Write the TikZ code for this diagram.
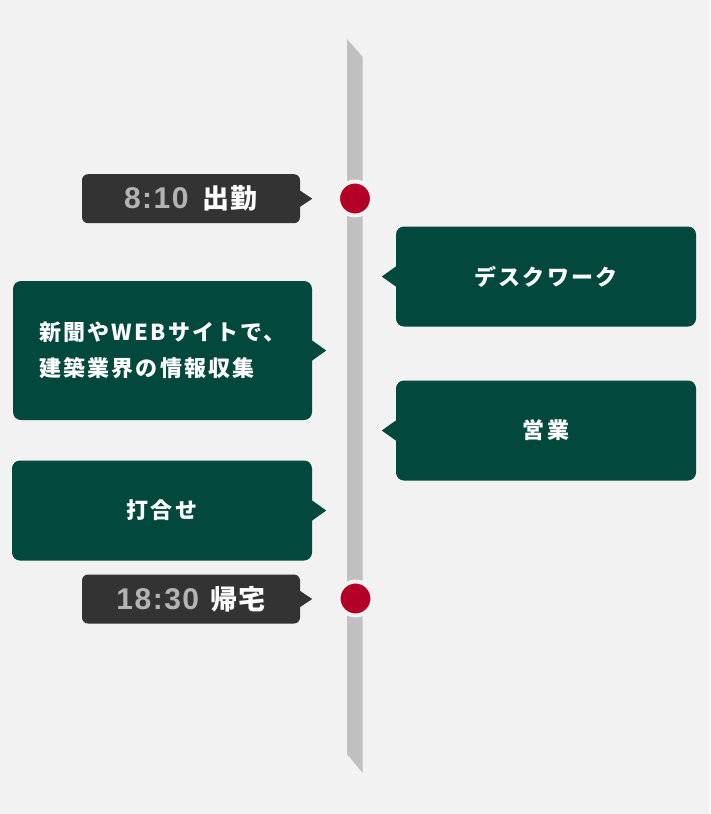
\documentclass[tikz,border=0pt]{standalone}
\usepackage{fontspec}
\setmainfont{Noto Sans CJK JP}
\newfontfamily\jpf[LetterSpace=10]{Noto Sans CJK JP}
\newfontfamily\jpt[LetterSpace=5]{Noto Sans CJK JP}
\newfontfamily\numf[LetterSpace=5]{Liberation Sans}
\definecolor{bgc}{HTML}{F2F2F2}
\definecolor{barc}{HTML}{C0C0C0}
\definecolor{grn}{HTML}{02483C}
\definecolor{dk}{HTML}{333333}
\definecolor{rd}{HTML}{B40027}
\definecolor{gtxt}{HTML}{B3B3B3}
\tikzset{
  gbox/.style={fill=grn, rounded corners=8pt, inner sep=0pt, minimum width=300pt, minimum height=100pt, text=white, font=\jpf\bfseries\fontsize{22}{36}\selectfont},
  tbox/.style={fill=dk, rounded corners=6pt, inner sep=0pt, minimum width=218pt, minimum height=49pt, text=white, font=\bfseries},
  dot/.style={circle, fill=rd, draw=bgc, line width=4pt, minimum size=34pt, inner sep=0pt},
  gptr/.style={fill=grn},
  tptr/.style={fill=dk}
}
\newcommand{\tnum}[1]{{\numf\fontsize{30}{30}\selectfont\color{gtxt}#1}}
\newcommand{\tjp}[1]{{\jpt\fontsize{27}{27}\selectfont #1}}
\begin{document}
\begin{tikzpicture}[x=1pt,y=-1pt]
\fill[bgc] (0,0) rectangle (710,814);
\useasboundingbox (0,0) rectangle (710,814);
% timeline bar
\fill[barc] (347,39) -- (362.7,57) -- (362.7,773) -- (347,754) -- cycle;
% dots
\node[dot] (d1) at (355,198.5) {};
\node[dot] (d2) at (355.5,598.5) {};
% time boxes
\node[tbox] (t1) at (191,198.7) {\tnum{8:10}\hspace{14pt}\tjp{出勤}};
\node[tbox] (t2) at (191,599) {\tnum{18:30}\hspace{11pt}\tjp{帰宅}};
\fill[tptr] ([yshift=8pt]t1.east) -- ([xshift=12pt]t1.east) -- ([yshift=-8pt]t1.east) -- cycle;
\fill[tptr] ([yshift=8pt]t2.east) -- ([xshift=12pt]t2.east) -- ([yshift=-8pt]t2.east) -- cycle;
% green boxes
\node[gbox] (desk) at (546,276.5) {\raisebox{2pt}{デスクワーク}};
\node[gbox] (sales) at (546,430.5) {\raisebox{2pt}{営業}};
\node[gbox, minimum width=299pt, minimum height=139pt, align=left] (news) at (162.5,350.5) {新聞やWEBサイトで、\\建築業界の情報収集};
\node[gbox, minimum width=300pt, minimum height=100pt] (meet) at (162,510.5) {\raisebox{2pt}{打合せ}};
\fill[gptr] ([yshift=10pt]desk.west) -- ([xshift=-14pt]desk.west) -- ([yshift=-10pt]desk.west) -- cycle;
\fill[gptr] ([yshift=10pt]sales.west) -- ([xshift=-14pt]sales.west) -- ([yshift=-10pt]sales.west) -- cycle;
\fill[gptr] ([yshift=10pt]news.east) -- ([xshift=14pt]news.east) -- ([yshift=-10pt]news.east) -- cycle;
\fill[gptr] ([yshift=10pt]meet.east) -- ([xshift=14pt]meet.east) -- ([yshift=-10pt]meet.east) -- cycle;
\end{tikzpicture}
\end{document}
